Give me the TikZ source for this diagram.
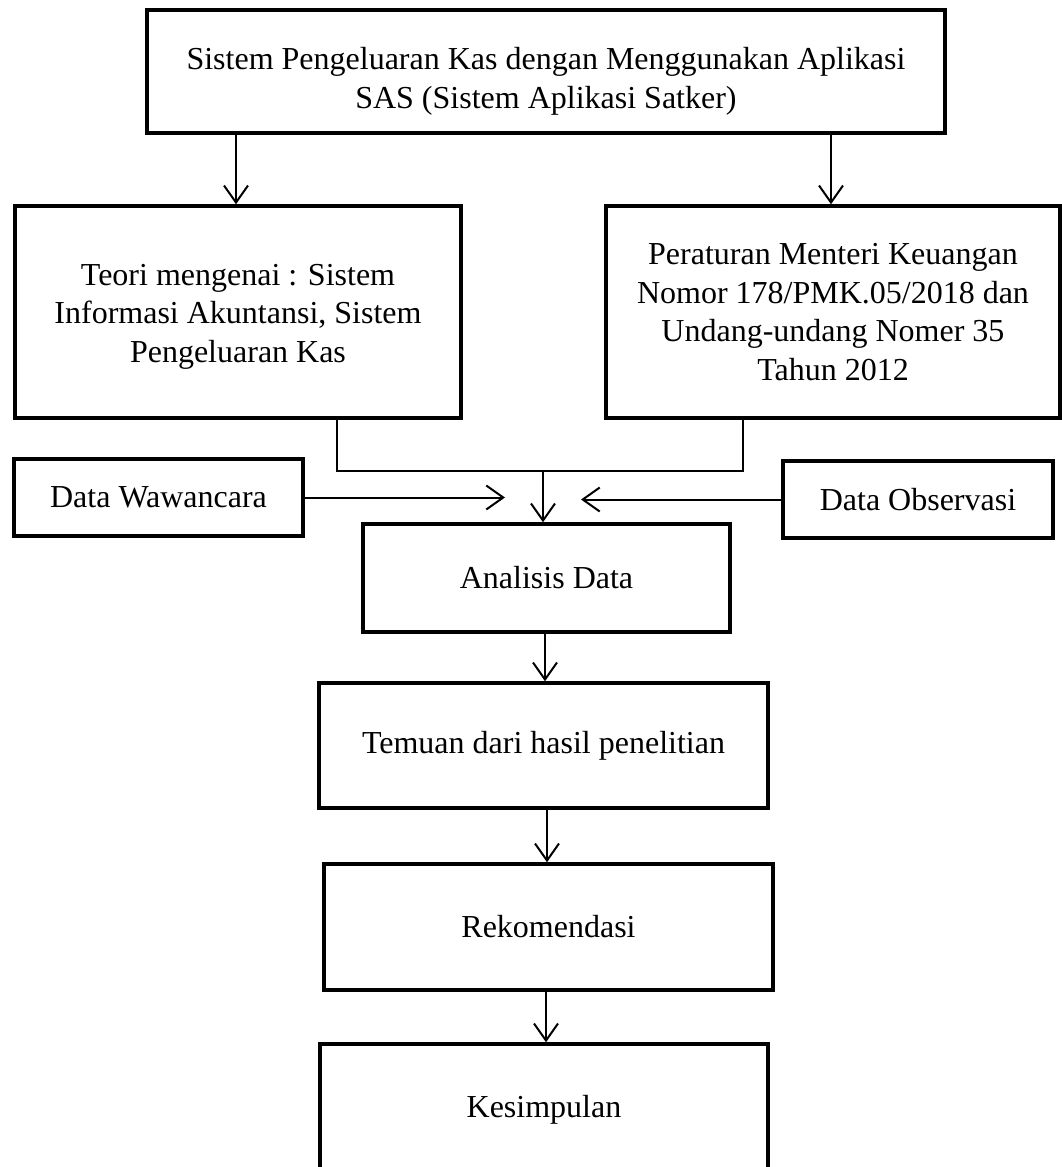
\documentclass[tikz,border=0pt]{standalone}
\usepackage{fontspec}
\setmainfont{Liberation Serif}
\usetikzlibrary{arrows.meta,calc}
\newcommand\lowertext[2]{\raisebox{#1}[\height][\depth]{\begin{tabular}{@{}c@{}}#2\end{tabular}}}
\begin{document}
\begin{tikzpicture}[x=1pt,y=-1pt,
  box/.style={draw, line width=3.5pt, inner sep=0pt, align=center,
    font=\fontsize{32}{38.5}\selectfont},
  arr/.style={line width=2pt, -{Straight Barb[length=17pt,width=24pt,line width=2pt]}},
  merge/.style={line width=1.3pt}]
\useasboundingbox (0,0) rectangle (1062,1167);
\clip (0,0) rectangle (1062,1167);
\node[box, minimum width=798pt, minimum height=123pt] (top) at (546,71.5)
  {\lowertext{-10pt}{Sistem Pengeluaran Kas dengan Menggunakan Aplikasi\\SAS (Sistem Aplikasi Satker)}};
\node[box, minimum width=446pt, minimum height=212pt] (teori) at (238,312)
  {\lowertext{-4pt}{Teori mengenai : Sistem\\Informasi Akuntansi, Sistem\\Pengeluaran Kas}};
\node[box, minimum width=454pt, minimum height=212pt] (pmk) at (833,312)
  {Peraturan Menteri Keuangan\\Nomor 178/PMK.05/2018 dan\\Undang-undang Nomer 35\\Tahun 2012};
\node[box, minimum width=289pt, minimum height=77pt] (waw) at (158.5,497.5) {Data Wawancara};
\node[box, minimum width=270pt, minimum height=77pt] (obs) at (918,499.5) {Data Observasi};
\node[box, minimum width=367pt, minimum height=108pt] (anal) at (546.5,578) {Analisis Data};
\node[box, minimum width=449pt, minimum height=125pt] (temuan) at (543.5,745.5) {Temuan dari hasil penelitian};
\node[box, minimum width=449pt, minimum height=126pt] (rekom) at (548.5,927) {Rekomendasi};
\node[box, minimum width=448pt, minimum height=132pt] (kes) at (544,1110) {Kesimpulan};
\coordinate (mj) at (543,471);
\coordinate (wt) at (505,497.5);
\coordinate (ot) at (581,499.5);
\draw[arr] (top.south -| 236,0) -- (teori.north -| 236,0);
\draw[arr] (top.south -| 831,0) -- (pmk.north -| 831,0);
\draw[merge] ($(teori.south)+(99,0)$) |- (mj) -| ($(pmk.south)+(-90,0)$);
\draw[arr] (mj) -- (mj |- anal.north);
\draw[arr] (waw.east) -- (wt);
\draw[arr] (obs.west) -- (ot);
\draw[arr] (anal.south -| 545,0) -- (temuan.north -| 545,0);
\draw[arr] (temuan.south -| 547,0) -- (rekom.north -| 547,0);
\draw[arr] (rekom.south -| 546,0) -- (kes.north -| 546,0);
\end{tikzpicture}
\end{document}
